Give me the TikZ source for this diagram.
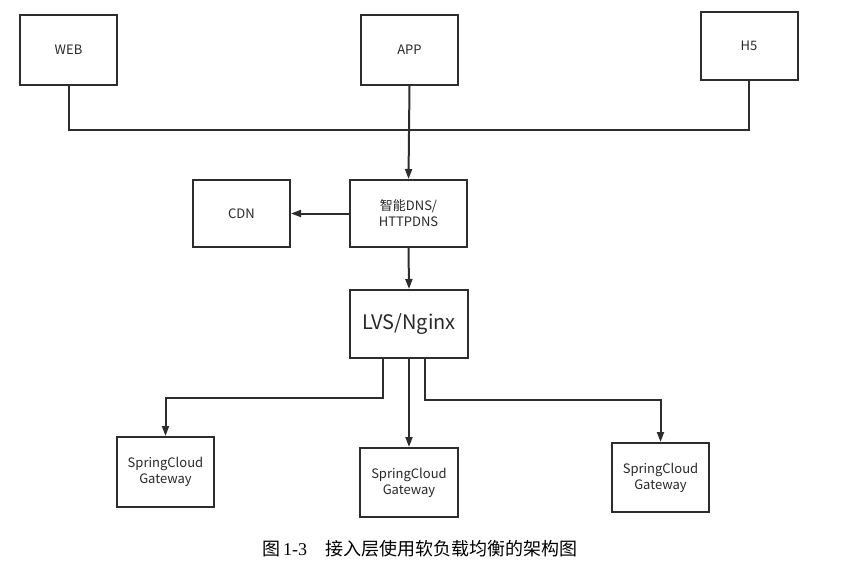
\documentclass[tikz,border=0pt]{standalone}
\usepackage{fontspec}
\setmainfont{Liberation Serif}
\newfontfamily\cjk{Noto Sans CJK SC}
\usetikzlibrary{arrows.meta}
\definecolor{ln}{RGB}{45,45,45}
\definecolor{tx}{RGB}{40,40,40}
\tikzset{
  box/.style={draw=ln, line width=2pt, minimum width=97pt, minimum height=70pt, inner sep=2pt, align=center, text=tx, font=\cjk\fontsize{13}{16}\selectfont},
  conn/.style={draw=ln, line width=2pt},
  arr/.style={conn, -{Triangle[length=10pt,width=7pt]}},
}
\begin{document}
\begin{tikzpicture}[x=1pt,y=-1pt]
\useasboundingbox (0,0) rectangle (847,574);
\node[box] (web) at (68.5,50) {WEB};
\node[box] (app) at (409.5,50) {APP};
\node[box, minimum height=68pt] (h5) at (749,46) {H5};
\node[box, minimum height=67pt] (cdn) at (241.5,213.5) {CDN};
\node[box, minimum width=117pt, minimum height=67pt] (dns) at (408.5,213.5) {智能DNS/\\HTTPDNS};
\node[box, minimum width=118pt, minimum height=68pt, font=\cjk\fontsize{20}{24}\selectfont] (lvs) at (409,324) {LVS/Nginx};
\node[box] (g1) at (165.5,472) {SpringCloud\\Gateway};
\node[box, minimum width=98pt, minimum height=69pt] (g2) at (409,482.5) {SpringCloud\\Gateway};
\node[box, minimum height=69pt] (g3) at (660.5,477.5) {SpringCloud\\Gateway};
\coordinate (j) at (409,130);
\coordinate (c1) at (383,398);
\coordinate (c3) at (425,400);
\draw[conn] (web.south) |- (j);
\draw[conn] (h5.south) |- (j);
\draw[arr] (app.south) -- (dns.north);
\draw[arr] (dns.west) -- (cdn.east);
\draw[arr] (dns.south) -- (lvs.north);
\draw[arr] (lvs.south -| c1) -- (c1) -| (g1.north);
\draw[arr] (lvs.south) -- (g2.north);
\draw[arr] (lvs.south -| c3) -- (c3) -| (g3.north);
\node[anchor=west, inner sep=0pt, font=\fontsize{18}{21}\selectfont] (cap) at (262,549) {{\cjk 图}\,1-3\hspace{1em}{\cjk 接入层使用软负载均衡的架构图}};
\end{tikzpicture}
\end{document}
